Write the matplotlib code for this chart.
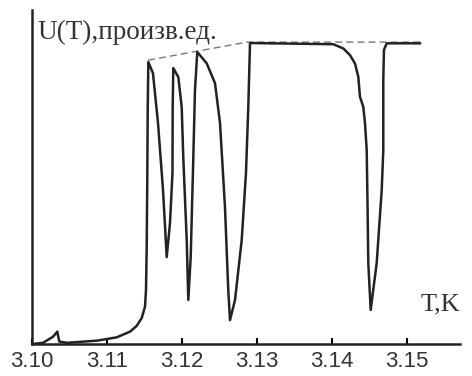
import matplotlib
matplotlib.use("Agg")
import matplotlib.pyplot as plt

# temperature, K
temp = [3.10000, 3.10147, 3.10280, 3.10337, 3.10364, 3.10463, 3.10863, 3.11129,
        3.11307, 3.11396, 3.11463, 3.11507, 3.11520, 3.11529, 3.11537, 3.11543,
        3.11551, 3.11613, 3.11680, 3.11747, 3.11796, 3.11840, 3.11873, 3.11876,
        3.11884, 3.11951, 3.11996, 3.12017, 3.12063, 3.12084, 3.12116, 3.12151,
        3.12173, 3.12204, 3.12329, 3.12440, 3.12507, 3.12573, 3.12617, 3.12640,
        3.12707, 3.12796, 3.12853, 3.12884, 3.12907, 3.14017, 3.14151, 3.14240,
        3.14307, 3.14351, 3.14373, 3.14417, 3.14440, 3.14463, 3.14473, 3.14484,
        3.14516, 3.14596, 3.14663, 3.14684, 3.14684, 3.14693, 3.14729, 3.15173]
# signal, arbitrary units
signal = [0.000, 0.004, 0.024, 0.041, 0.008, 0.004, 0.011, 0.022,
          0.041, 0.060, 0.086, 0.124, 0.179, 0.311, 0.543, 0.775,
          0.934, 0.897, 0.732, 0.510, 0.288, 0.401, 0.566, 0.785,
          0.914, 0.884, 0.785, 0.619, 0.344, 0.146, 0.288, 0.619,
          0.841, 0.967, 0.930, 0.864, 0.732, 0.454, 0.179, 0.079,
          0.146, 0.344, 0.566, 0.785, 0.997, 0.993, 0.979, 0.957,
          0.929, 0.885, 0.819, 0.786, 0.732, 0.642, 0.477, 0.268,
          0.113, 0.268, 0.510, 0.642, 0.874, 0.974, 0.996, 0.996]

# dashed envelope over the peaks
env_temp = [3.11547, 3.12200, 3.12867, 3.15173]
env_signal = [0.94, 0.97, 1.0, 1.0]

xticks = [3.10, 3.11, 3.12, 3.13, 3.14, 3.15]
xlabels = ['3.10', '3.11', '3.12', '3.13', '3.14', '3.15']

fig = plt.figure(figsize=(4.72, 3.76), dpi=100)
ax = fig.add_axes([0.0678, 0.0851, 0.9068, 0.888])

ax.plot(env_temp, env_signal, color='#777777', lw=1.0, ls=(0, (5, 3)))
ax.plot(temp, signal, color='#222222', lw=1.8, solid_joinstyle='round')

ax.set_xlim(3.10, 3.15707)
ax.set_ylim(0, 1.106)

for s in ['top', 'right']:
    ax.spines[s].set_visible(False)
for s in ['left', 'bottom']:
    ax.spines[s].set_linewidth(1.8)
    ax.spines[s].set_color('#222222')

ax.set_yticks([])
ax.set_xticks(xticks)
ax.set_xticklabels(xlabels, family='Liberation Sans', fontsize=16, color='#333333')
ax.tick_params(axis='x', direction='in', length=4, width=1.5, pad=5)

ax.text(0.013, 0.97, 'U(T),произв.ед.', transform=ax.transAxes,
        family='Liberation Serif', fontsize=19.5, color='#333333', va='top', ha='left')
ax.text(1.0, 0.085, 'T,K', transform=ax.transAxes,
        family='Liberation Serif', fontsize=19, color='#333333', va='bottom', ha='right')

plt.savefig('out.png', dpi=100)
